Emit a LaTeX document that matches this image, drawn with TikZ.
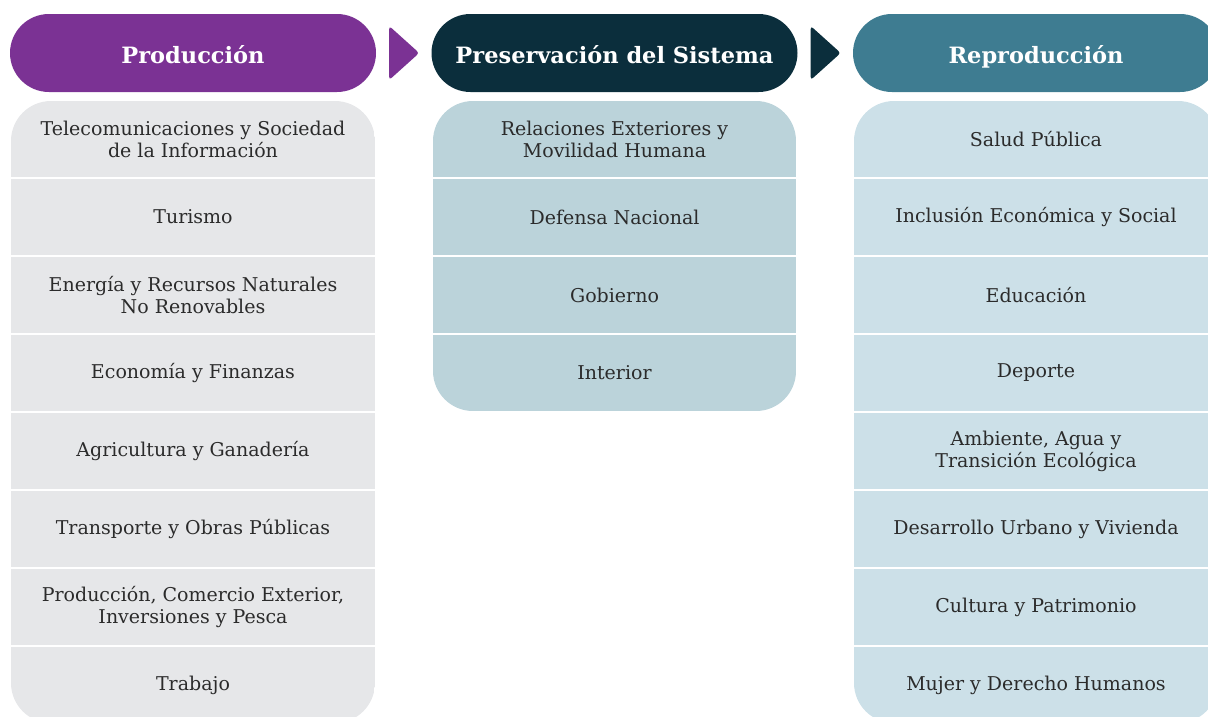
\documentclass[tikz,border=0pt]{standalone}
\usepackage{fontspec}
\setmainfont{DejaVu Serif}
\usetikzlibrary{calc}

\definecolor{prodcol}{HTML}{7B3294}
\definecolor{prescol}{HTML}{0B2E3C}
\definecolor{reprcol}{HTML}{3E7C91}
\definecolor{prodbg}{HTML}{E6E7E9}
\definecolor{presbg}{HTML}{BBD3DA}
\definecolor{reprbg}{HTML}{CCE0E8}
\definecolor{txtcol}{HTML}{2B2B2B}

\begin{document}
\begin{tikzpicture}[x=1pt,y=-1pt,
    header/.style={minimum width=366pt, minimum height=78pt, rounded corners=39pt,
        text=white, font=\fontsize{22.5}{26}\selectfont\bfseries, inner sep=0pt,
        text height=22pt, text depth=2pt},
    row/.style={minimum width=364pt, minimum height=76pt, inner sep=0pt,
        align=center, text=txtcol, font=\fontsize{19}{22}\selectfont},
    chevron/.style={rounded corners=3pt}]
    \useasboundingbox (0,0) rectangle (1208,716);
    \clip (0,0) rectangle (1208,716);

    % headers
    \node[header, fill=prodcol] (prod) at (193,53) {Producción};
    \node[header, fill=prescol] (pres) at (614.5,53) {Preservación del Sistema};
    \node[header, fill=reprcol] (repr) at (1036,53) {Reproducción};

    \fill[chevron, prodcol] ($(prod.east)+(13,-27)$) -- ($(prod.east)+(43,0)$) -- ($(prod.east)+(13,27)$) -- cycle;
    \fill[chevron, prescol] ($(pres.east)+(13,-27)$) -- ($(pres.east)+(43,0)$) -- ($(pres.east)+(13,27)$) -- cycle;

    % Produccion
    \begin{scope}
        \clip[rounded corners=40pt] (11,101) rectangle (375,723);
        \foreach \txt [count=\i] in {{Telecomunicaciones y Sociedad\\de la Información},
            Turismo, {Energía y Recursos Naturales\\No Renovables},
            Economía y Finanzas, Agricultura y Ganadería,
            Transporte y Obras Públicas,
            {Producción, Comercio Exterior,\\Inversiones y Pesca}, Trabajo}
            \node[row, fill=prodbg] (p\i) at (193,139+78*\i-78) {\txt};
    \end{scope}

    % Preservacion del Sistema
    \begin{scope}
        \clip[rounded corners=40pt] (433,101) rectangle (796,411);
        \foreach \txt [count=\i] in {{Relaciones Exteriores y\\Movilidad Humana},
            Defensa Nacional, Gobierno, Interior}
            \node[row, fill=presbg, minimum width=363pt] (s\i) at (614.5,139+78*\i-78) {\txt};
    \end{scope}

    % Reproduccion
    \begin{scope}
        \clip[rounded corners=40pt] (854,101) rectangle (1218,723);
        \foreach \txt [count=\i] in {Salud Pública,
            Inclusión Económica y Social, Educación, Deporte,
            {Ambiente, Agua y\\Transición Ecológica},
            Desarrollo Urbano y Vivienda, Cultura y Patrimonio,
            Mujer y Derecho Humanos}
            \node[row, fill=reprbg] (r\i) at (1036,139+78*\i-78) {\txt};
    \end{scope}
\end{tikzpicture}
\end{document}
